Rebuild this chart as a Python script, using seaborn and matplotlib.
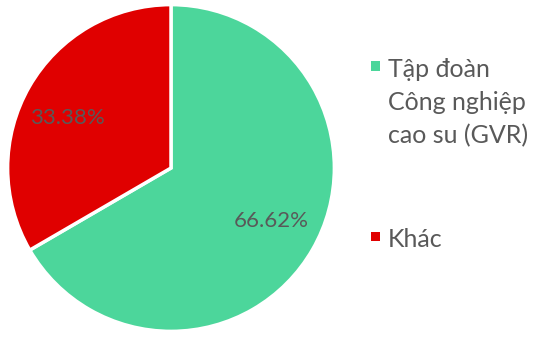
import matplotlib
matplotlib.use("Agg")
import matplotlib.pyplot as plt
import seaborn as sns
from matplotlib.patches import Rectangle

sns.set_theme(style="white")
plt.rcParams['font.family'] = ['Lato', 'DejaVu Sans']

labels = ["Tập đoàn\nCông nghiệp\ncao su (GVR)", "Khác"]
values = [66.62, 33.38]
colors = ["#4cd69b", "#e00000"]
text_color = "#595959"

W, H = 534, 338
fig = plt.figure(figsize=(W/100, H/100), dpi=100)
ax = fig.add_axes([6/W, 5/H, 330/W, 330/H])
wedges, texts, autotexts = ax.pie(
    values, colors=colors, startangle=90, counterclock=False,
    autopct=lambda p: f"{p:.2f}%", pctdistance=0.7,
    wedgeprops=dict(edgecolor="white", linewidth=2.5),
    textprops=dict(color=text_color, fontsize=16),
)
# label placement as in the reference
autotexts[0].set_position((0.612, -0.327))
autotexts[1].set_position((-0.636, 0.303))
ax.set_aspect("equal")
ax.set_xlim(-1.01, 1.01)
ax.set_ylim(-1.01, 1.01)
ax.axis("off")

# legend (manual placement)
legend_items = [(colors[0], labels[0], 66), (colors[1], labels[1], 236)]
for c, lab, ycen in legend_items:
    fig.add_artist(Rectangle((371/W, 1 - (ycen + 4.5)/H), 9/W, 9/H,
                             transform=fig.transFigure, facecolor=c, edgecolor="none"))
    fig.text(388/W, 1 - (ycen - 8)/H, lab, ha="left", va="top", fontsize=18,
             color=text_color, linespacing=1.52)
fig.savefig("out.png", dpi=100)
